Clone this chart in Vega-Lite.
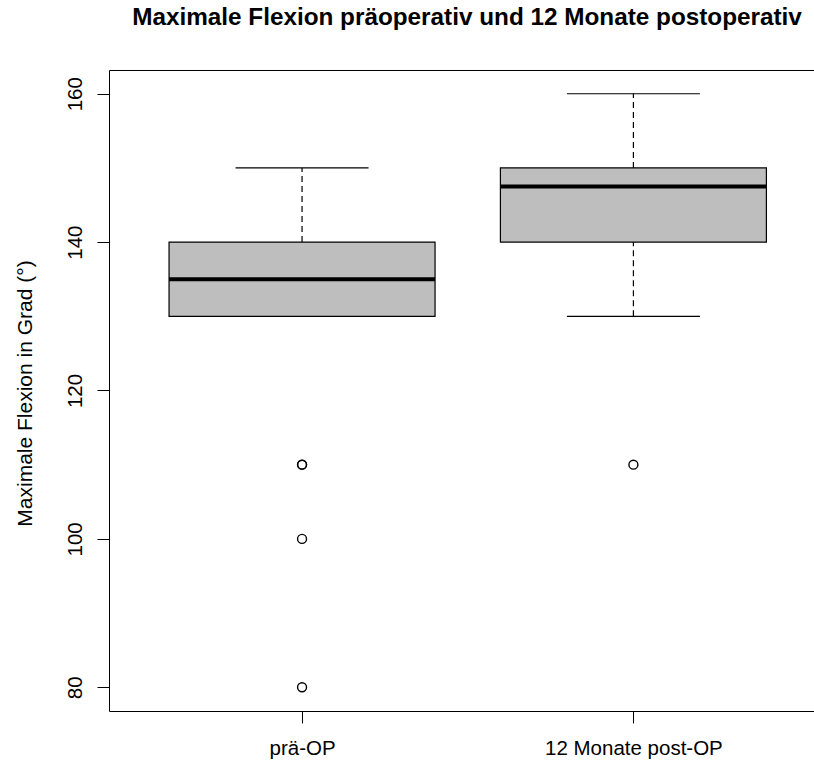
{
  "$schema": "https://vega.github.io/schema/vega-lite/v6.json",
  "width": 705,
  "height": 641,
  "autosize": {"type": "none"},
  "padding": {"left": 109, "top": 70, "right": 0, "bottom": 51},
  "background": "white",
  "config": {
    "view": {"stroke": null},
    "font": "Liberation Sans",
    "axis": {
      "domainColor": "black",
      "domainWidth": 1,
      "tickColor": "black",
      "tickWidth": 1,
      "labelColor": "black",
      "titleColor": "black",
      "labelFont": "Liberation Sans",
      "titleFont": "Liberation Sans",
      "labelFontSize": 20.5,
      "titleFontSize": 21,
      "titleFontWeight": "normal",
      "grid": false
    }
  },
  "title": {
    "text": "Maximale Flexion präoperativ und 12 Monate postoperativ",
    "font": "Liberation Sans",
    "fontSize": 24.3,
    "fontWeight": "bold",
    "color": "black",
    "anchor": "middle",
    "baseline": "alphabetic",
    "offset": 21,
    "dx": 5.5
  },
  "datasets": {
    "stats": [
      {"grp": 1, "lo": 130, "q1": 130, "med": 135, "q3": 140, "hi": 150},
      {"grp": 2, "lo": 130, "q1": 140, "med": 147.5, "q3": 150, "hi": 160}
    ],
    "outliers": [
      {"grp": 1, "v": 110},
      {"grp": 1, "v": 110},
      {"grp": 1, "v": 100},
      {"grp": 1, "v": 80},
      {"grp": 2, "v": 110}
    ]
  },
  "resolve": {"axis": {"x": "independent"}},
  "layer": [
    {
      "data": {"name": "stats"},
      "mark": {"type": "rule", "color": "black", "strokeWidth": 1.2, "strokeDash": [6, 4]},
      "encoding": {
        "x": {
          "field": "grp", "type": "quantitative",
          "scale": {"domain": [0.4174, 2.545], "nice": false, "zero": false, "padding": 0},
          "axis": {
            "orient": "bottom",
            "values": [1, 2],
            "labelExpr": "datum.value == 1 ? 'prä-OP' : '12 Monate post-OP'",
            "tickSize": 12,
            "labelPadding": 15,
            "labelFlush": false,
            "labelOverlap": false,
            "title": null
          }
        },
        "y": {
          "field": "lo", "type": "quantitative",
          "scale": {"domain": [76.8, 163.2], "nice": false, "zero": false, "padding": 0},
          "axis": {
            "values": [80, 100, 120, 140, 160],
            "labelAngle": -90,
            "tickSize": 12,
            "labelPadding": 12,
            "title": "Maximale Flexion in Grad (°)",
            "titleBaseline": "alphabetic",
            "titleX": -78,
            "titleY": 323,
            "titleAngle": -90,
            "titleAlign": "center"
          }
        },
        "y2": {"field": "q1"}
      }
    },
    {
      "data": {"name": "stats"},
      "mark": {"type": "rule", "color": "black", "strokeWidth": 1.2, "strokeDash": [6, 4]},
      "encoding": {
        "x": {"field": "grp", "type": "quantitative", "axis": {"orient": "top", "ticks": false, "labels": false, "title": null, "domain": true, "grid": false}},
        "y": {"field": "q3", "type": "quantitative"},
        "y2": {"field": "hi"}
      }
    },
    {
      "data": {"name": "stats"},
      "mark": {"type": "tick", "orient": "horizontal", "size": 133, "thickness": 1.2, "color": "black", "opacity": 1},
      "encoding": {
        "x": {"field": "grp", "type": "quantitative", "axis": null},
        "y": {"field": "lo", "type": "quantitative"}
      }
    },
    {
      "data": {"name": "stats"},
      "mark": {"type": "tick", "orient": "horizontal", "size": 133, "thickness": 1.2, "color": "black", "opacity": 1},
      "encoding": {
        "x": {"field": "grp", "type": "quantitative", "axis": null},
        "y": {"field": "hi", "type": "quantitative"}
      }
    },
    {
      "data": {"name": "stats"},
      "mark": {"type": "bar", "width": 266, "fill": "#bebebe", "stroke": "black", "strokeWidth": 1.2, "opacity": 1},
      "encoding": {
        "x": {"field": "grp", "type": "quantitative", "axis": null},
        "y": {"field": "q1", "type": "quantitative"},
        "y2": {"field": "q3"}
      }
    },
    {
      "data": {"name": "stats"},
      "mark": {"type": "tick", "orient": "horizontal", "size": 266, "thickness": 4, "color": "black", "opacity": 1},
      "encoding": {
        "x": {"field": "grp", "type": "quantitative", "axis": null},
        "y": {"field": "med", "type": "quantitative"}
      }
    },
    {
      "data": {"name": "outliers"},
      "mark": {"type": "point", "shape": "circle", "filled": false, "size": 80, "stroke": "black", "strokeWidth": 1.4, "opacity": 1},
      "encoding": {
        "x": {"field": "grp", "type": "quantitative", "axis": null},
        "y": {"field": "v", "type": "quantitative"}
      }
    }
  ]
}
